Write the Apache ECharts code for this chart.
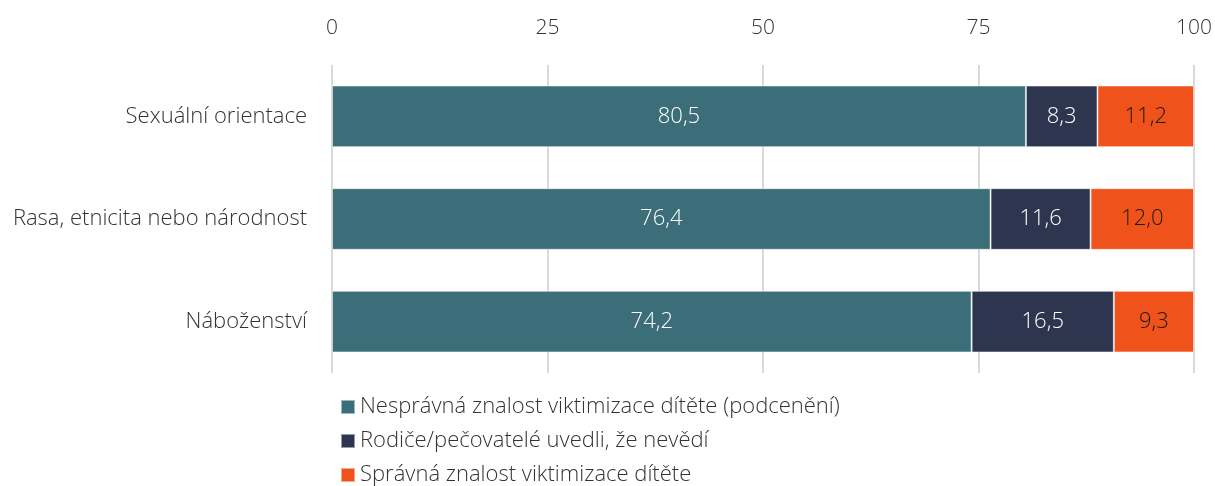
<!doctype html>
<html>
<head>
<meta charset="UTF-8">
<title>Znalost viktimizace dítěte</title>
<script src="https://cdn.jsdelivr.net/npm/echarts@6/dist/echarts.min.js"></script>
<style>
  html, body { margin: 0; padding: 0; background: #fff; }
  #main { width: 1215px; height: 486px; }
</style>
</head>
<body>
<div id="main"></div>
<script>
var categories = ['Sexuální orientace', 'Rasa, etnicita nebo národnost', 'Náboženství'];
var seriesNames = [
  'Nesprávná znalost viktimizace dítěte (podcenění)',
  'Rodiče/pečovatelé uvedli, že nevědí',
  'Správná znalost viktimizace dítěte'
];
var underestimated = [80.5, 76.4, 74.2];
var dontKnow = [8.3, 11.6, 16.5];
var correct = [11.2, 12.0, 9.3];
var colors = ['#3b6e78', '#2e364f', '#f0521c'];
var labelColors = ['#ffffff', '#ffffff', '#1a1a1a'];

var font = '"Open Sans", "Noto Sans", sans-serif';
var chart = echarts.init(document.getElementById('main'));

function makeSeries(i, data) {
  return {
    name: seriesNames[i],
    type: 'bar',
    stack: 'total',
    barWidth: '60%',
    data: data,
    itemStyle: { color: colors[i], borderColor: 'rgba(255,255,255,0.5)', borderWidth: 1 },
    label: {
      show: true,
      position: 'inside',
      color: labelColors[i],
      fontFamily: font,
      fontWeight: 300,
      fontSize: 22,
      formatter: function (p) { return p.value.toFixed(1).replace('.', ','); }
    }
  };
}

chart.setOption({
  animation: false,
  textStyle: { fontFamily: font },
  grid: { left: 332, right: 19, top: 65, height: 308, containLabel: false },
  xAxis: {
    type: 'value',
    position: 'top',
    min: 0, max: 100, interval: 25,
    axisLine: { show: false },
    axisTick: { show: false },
    axisLabel: { color: '#333', fontSize: 21, fontWeight: 300, fontFamily: font, margin: 26 },
    splitLine: { lineStyle: { color: '#d9d9d9', width: 2 } }
  },
  yAxis: {
    type: 'category',
    inverse: true,
    data: categories,
    axisLine: { show: false },
    axisTick: { show: false },
    axisLabel: { color: '#333', fontSize: 22, fontWeight: 300, fontFamily: font, margin: 25 }
  },
  legend: {
    orient: 'vertical',
    left: 340,
    top: 396,
    height: 200,
    padding: 0,
    itemWidth: 14,
    itemHeight: 14,
    itemGap: 12,
    icon: 'rect',
    textStyle: { color: '#333', fontSize: 22, fontWeight: 300, fontFamily: font }
  },
  series: [
    makeSeries(0, underestimated),
    makeSeries(1, dontKnow),
    makeSeries(2, correct)
  ]
});
</script>
</body>
</html>
